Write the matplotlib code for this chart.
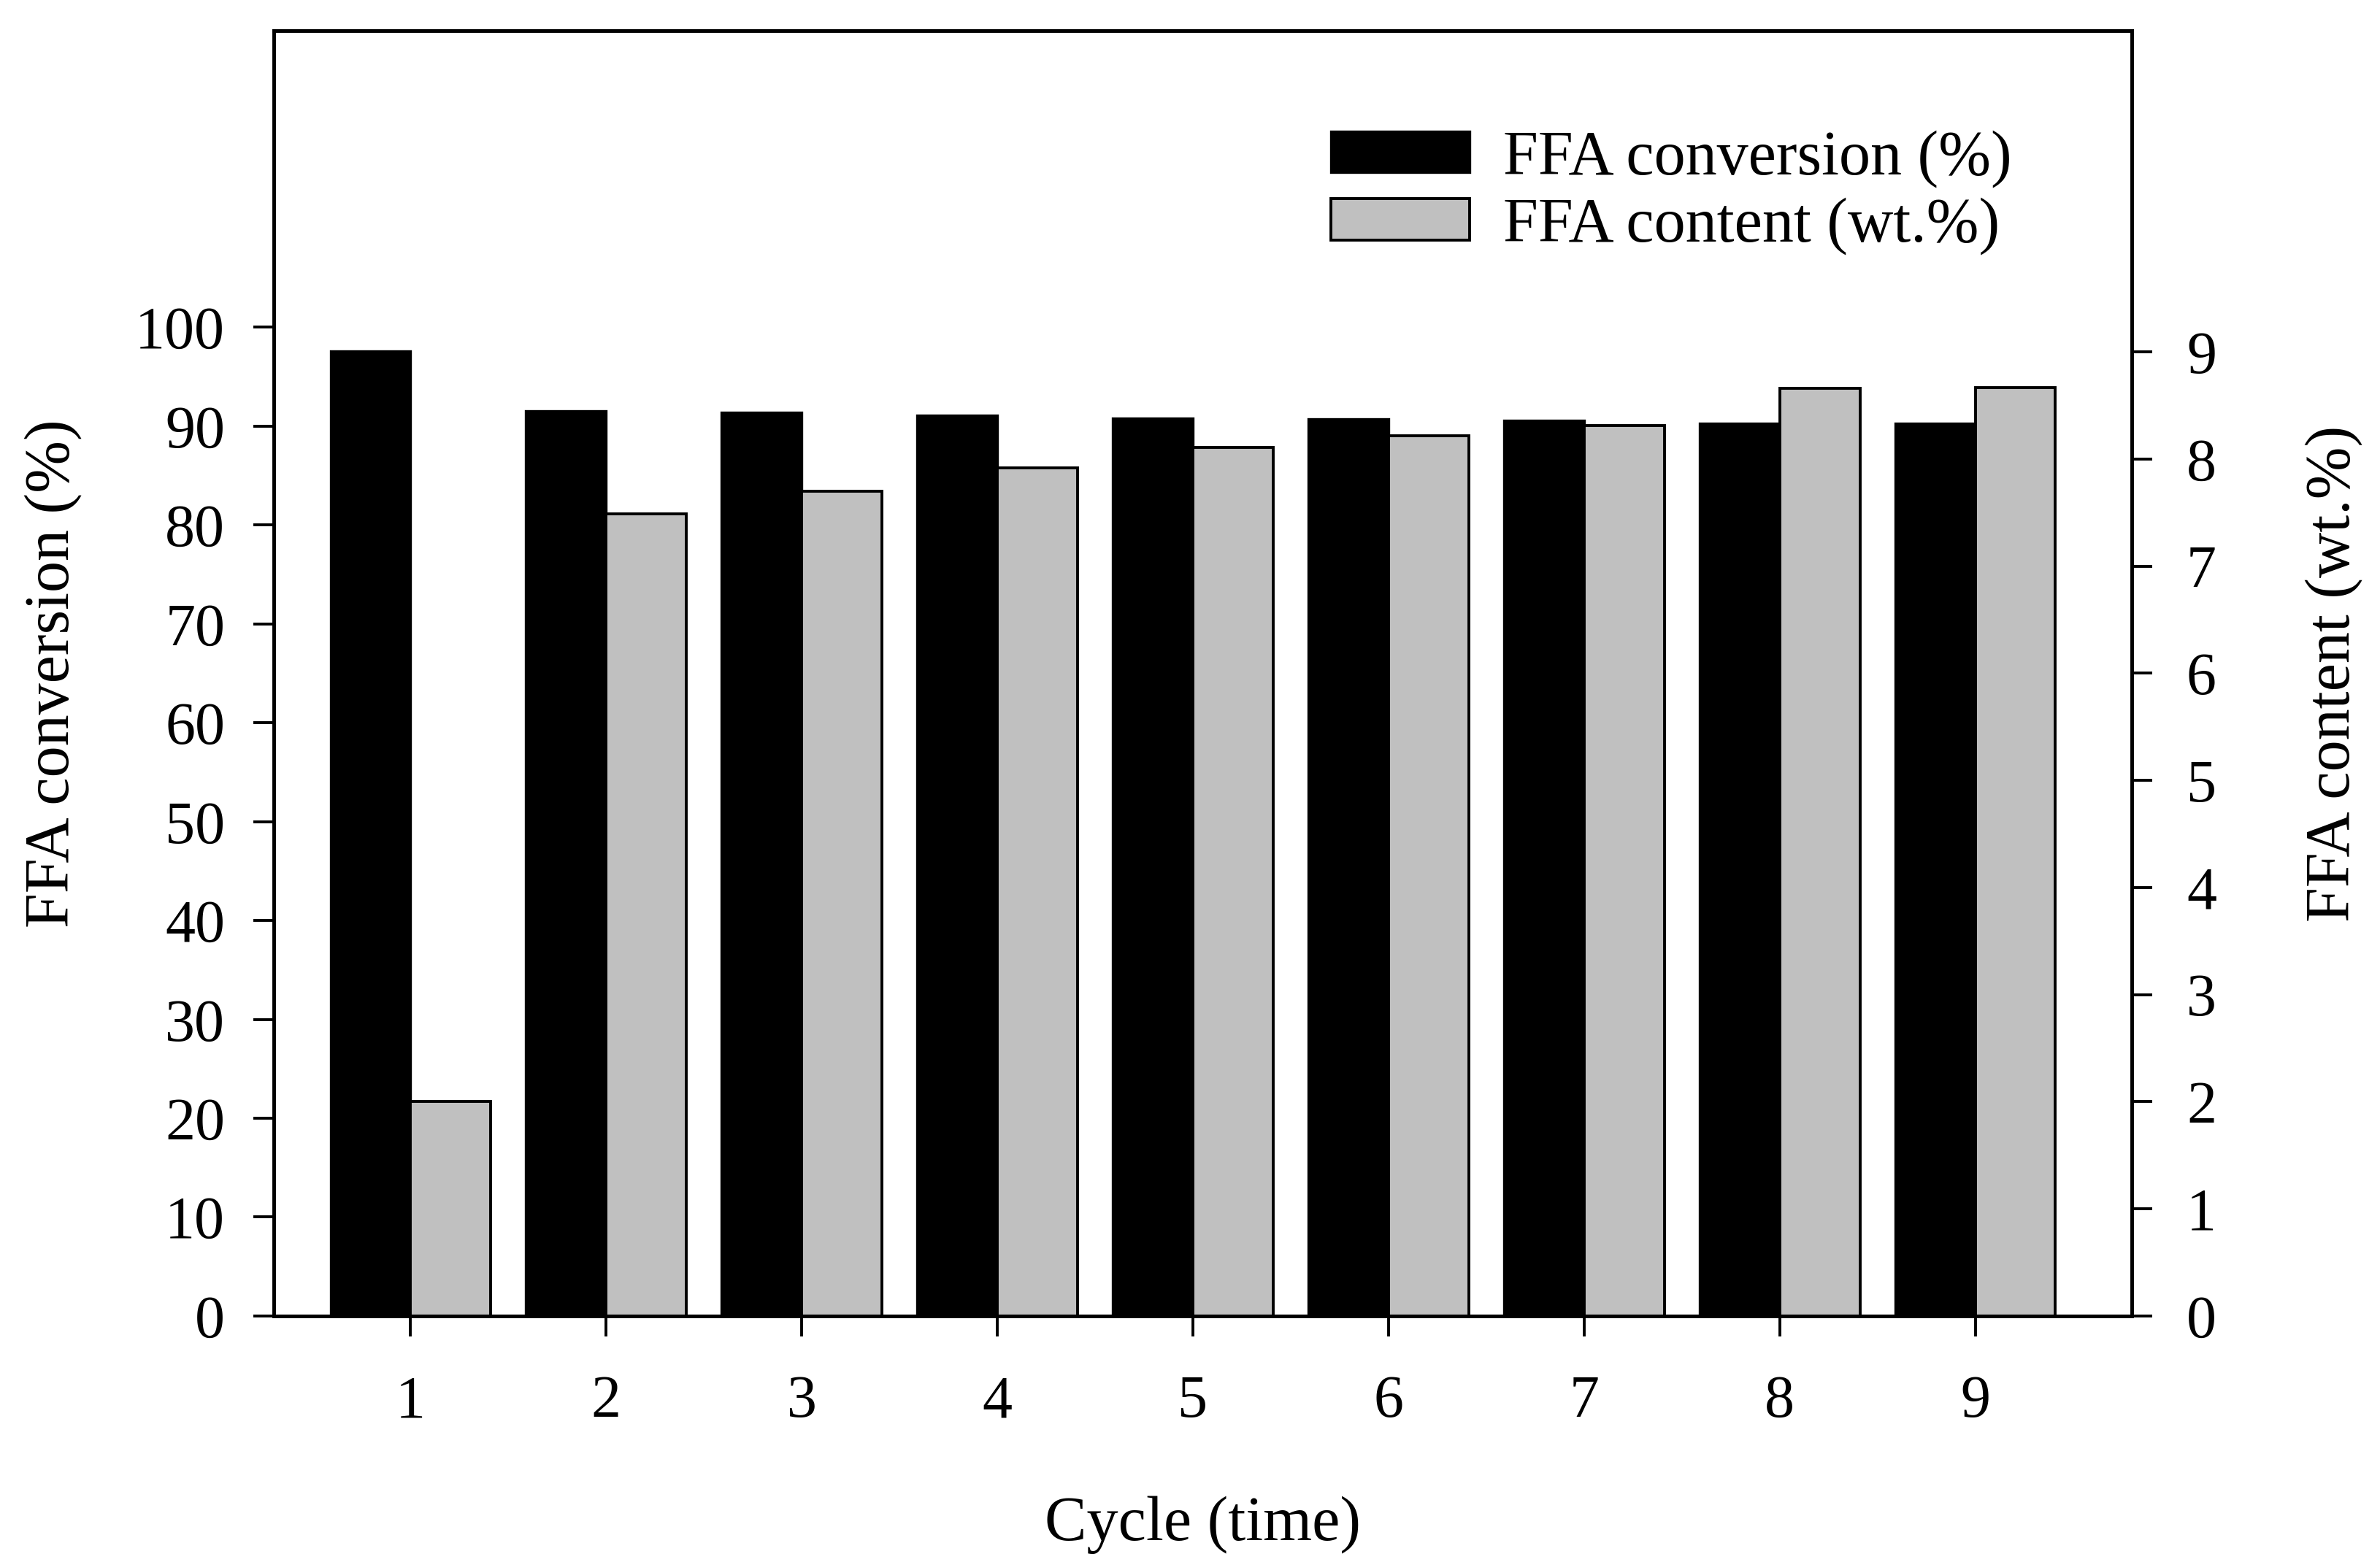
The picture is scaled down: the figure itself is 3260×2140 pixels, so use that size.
import matplotlib
matplotlib.use("Agg")
import matplotlib.pyplot as plt
import numpy as np

# Data
cycles = [1, 2, 3, 4, 5, 6, 7, 8, 9]
ffa_conversion = [97.6, 91.5, 91.4, 91.1, 90.8, 90.7, 90.6, 90.3, 90.3]
ffa_content = [2.00, 7.49, 7.70, 7.92, 8.11, 8.22, 8.31, 8.66, 8.67]

left_ticks = [0, 10, 20, 30, 40, 50, 60, 70, 80, 90, 100]
right_ticks = [0, 1, 2, 3, 4, 5, 6, 7, 8, 9]

plt.rcParams['font.family'] = ['Liberation Serif', 'DejaVu Serif']
fs = 29.5
lfs = 31

fig = plt.figure(figsize=(16.3, 10.7), dpi=200)
ax = fig.add_axes([0.115, 0.1575, 0.7807, 0.8229])
ax2 = ax.twinx()

x = np.array(cycles)
w = 0.41
b1 = ax.bar(x - w / 2, ffa_conversion, width=w, color='black',
            edgecolor='black', linewidth=1.2, label='FFA conversion (%)')
b2 = ax2.bar(x + w / 2, ffa_content, width=w, color='#c0c0c0',
             edgecolor='black', linewidth=1.4, label='FFA content (wt.%)')

ax.set_xlim(0.3, 9.8)
ax.set_ylim(0, 130)
ax2.set_ylim(0, 12)

ax.set_xticks(cycles)
ax.set_yticks(left_ticks)
ax2.set_yticks(right_ticks)

for a in (ax, ax2):
    for s in a.spines.values():
        s.set_linewidth(1.7)
ax.tick_params(axis='both', direction='out', length=10, width=1.4, labelsize=fs)
ax.tick_params(axis='y', pad=14)
ax.tick_params(axis='x', pad=19)
ax2.tick_params(axis='y', direction='out', length=10, width=1.4, labelsize=fs, pad=17)

ax.set_xlabel('Cycle (time)', fontsize=lfs)
ax.set_ylabel('FFA conversion (%)', fontsize=lfs)
ax2.set_ylabel('FFA content (wt.%)', fontsize=lfs)
ax.xaxis.set_label_coords(0.5, -0.140)
ax.yaxis.set_label_coords(-0.103, 0.5)
ax2.yaxis.set_label_coords(1.093, 0.5)

ax2.legend([b1, b2], ['FFA conversion (%)', 'FFA content (wt.%)'],
           loc='center left', bbox_to_anchor=(0.569, 0.874), frameon=False,
           fontsize=lfs, handlelength=2.21, handleheight=0.625,
           handletextpad=0.53, labelspacing=0.15, borderpad=0, borderaxespad=0)

fig.savefig('out.png', dpi=200)
